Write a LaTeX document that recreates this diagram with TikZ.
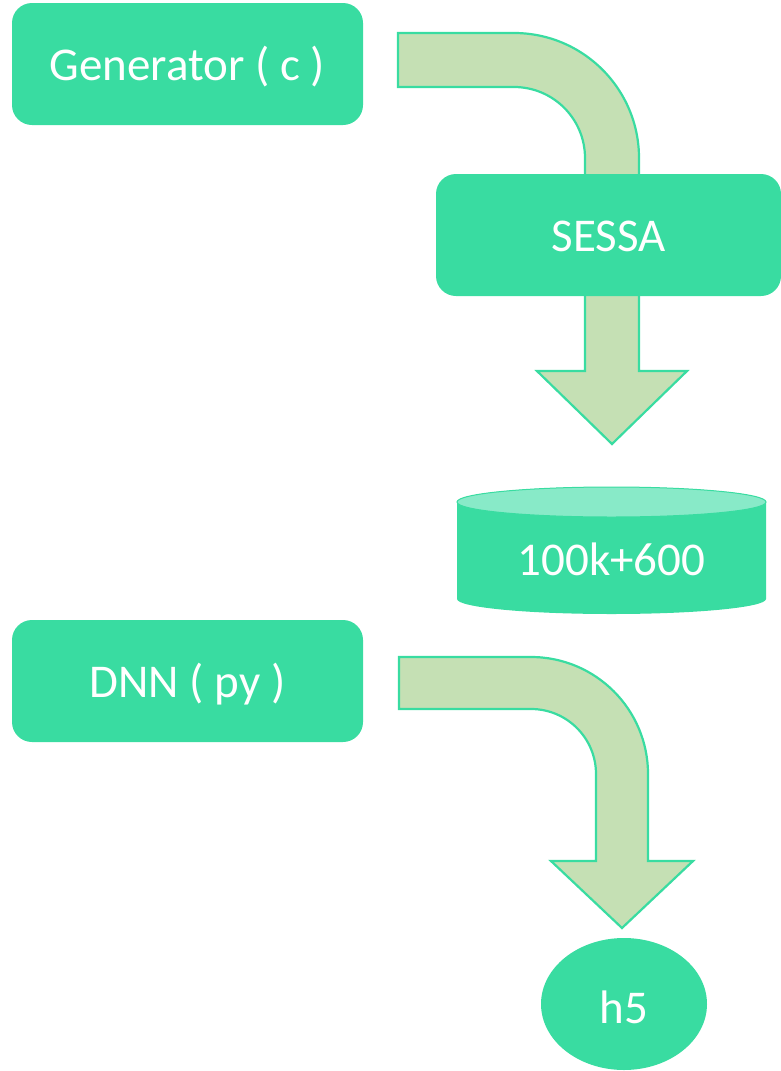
\documentclass[tikz,border=0pt]{standalone}
\usepackage{fontspec}
\setmainfont{Carlito}
\usetikzlibrary{shapes.geometric}
\definecolor{mint}{HTML}{39DCA1}
\definecolor{mintlight}{HTML}{88EAC8}
\definecolor{pale}{HTML}{C5E0B4}
\tikzset{
  label/.style={text=white, font=\fontsize{47}{56}\selectfont, inner sep=0pt,
    text height=32pt, text depth=0pt},
  block/.style={label, fill=mint, rounded corners=20pt, minimum width=351pt, minimum height=122pt},
  bigarrow/.style={fill=pale, draw=mint, line width=2.2pt, line join=miter},
}
\begin{document}
\begin{tikzpicture}[x=1pt, y=-1pt]
\useasboundingbox (0,0) rectangle (781,1071);

% bent arrow from the generator into SESSA
\path[bigarrow] (398,33) -- (514,33) arc[start angle=90, end angle=0, radius=125pt]
  -- (639,220) -- (585,220) -- (585,158) arc[start angle=0, end angle=90, radius=71pt]
  -- (398,87) -- cycle;

% straight arrow from SESSA down to the data store
\path[bigarrow] (585,280) -- (585,371) -- (537,371) -- (612,444) -- (687,371)
  -- (639,371) -- (639,280);

\node[block] (gen) at (187.5,64) {Generator ( c )};
\node[block, minimum width=345pt] (sessa) at (608.5,235) {SESSA};

% data store cylinder
\fill[mint] (457,502) -- (457,599) arc[start angle=180, end angle=360, x radius=154.5pt, y radius=15pt]
  -- (766,502) arc[start angle=0, end angle=180, x radius=154.5pt, y radius=15pt] -- cycle;
\filldraw[fill=mintlight, draw=mint, line width=1pt] (611.5,502) ellipse[x radius=154.5pt, y radius=15pt];
\node[label] (data) at (611.5,559) {100k+600};

\node[block] (dnn) at (187.5,681) {DNN ( py )};

% bent arrow from the DNN to h5
\path[bigarrow] (399,657) -- (531,657) arc[start angle=90, end angle=0, radius=117pt]
  -- (648,861) -- (693,861) -- (622,928) -- (551,861) -- (596,861)
  -- (596,774) arc[start angle=0, end angle=90, radius=65pt] -- (399,709) -- cycle;

\node[label, ellipse, fill=mint, minimum width=166pt, minimum height=132pt,
  text height=38pt] (h5) at (624,1004) {h5};
\end{tikzpicture}
\end{document}
